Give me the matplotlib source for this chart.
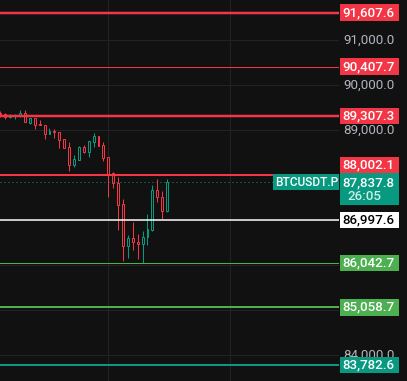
import matplotlib.pyplot as plt
from matplotlib.patches import Rectangle

plt.rcParams['font.family'] = ['Roboto', 'DejaVu Sans']
plt.rcParams['lines.scale_dashes'] = False

BG = '#111111'
GRID = '#232323'
RED = '#f23645'
TEAL = '#089981'
GREEN = '#4caf50'
AXIS_TXT = '#b2b5be'

# candle data (oldest first)
opens = [89370, 89348, 89281, 89311, 89319, 89370, 89156, 89267, 89141, 89111,
         88904, 88970, 88948, 88793, 88622, 88230, 88341, 88622, 88511, 88733,
         88867, 88659, 88400, 88037, 87830, 87356, 86430, 86600, 86511, 86474,
         86622, 86778, 87667, 87511, 87200]
highs = [89422, 89370, 89356, 89348, 89444, 89444, 89267, 89267, 89222, 89118,
         89037, 89022, 88955, 88800, 88733, 88444, 88644, 88667, 88756, 88941,
         88867, 88733, 88400, 88074, 87948, 87467, 86667, 86956, 86689, 86755,
         87133, 87778, 87911, 87644, 87911]
lows = [89296, 89237, 89274, 89237, 89281, 89170, 89141, 89022, 89104, 88807,
        88904, 88830, 88607, 88607, 88089, 88185, 88341, 88481, 88400, 88615,
        88652, 88311, 87518, 87719, 86785, 86096, 86163, 86333, 86133, 86037,
        86444, 86756, 87400, 87022, 87185]
closes = [89311, 89296, 89341, 89326, 89370, 89170, 89267, 89118, 89104, 88904,
          88978, 88948, 88778, 88607, 88230, 88348, 88622, 88511, 88756, 88867,
          88652, 88385, 88022, 87830, 87341, 86430, 86593, 86504, 86474, 86622,
          86793, 87667, 87504, 87207, 87837.8]

grid_prices = [84000, 85000, 86000, 87000, 88000, 89000, 90000, 91000]
# price-scale labels that are not covered by a level tag
scale_labels = [84000, 89000, 90000, 91000]
time_grid = [22, 46.8]

levels = [91607.6, 90407.7, 89307.3, 88002.1, 86997.6, 86042.7, 85058.7, 83782.6]
level_colors = [RED, RED, RED, RED, 'white', GREEN, GREEN, TEAL]
level_lw_px = [2.5, 1.0, 2.5, 2.0, 1.5, 1.0, 2.0, 2.0]
level_text = ['white', 'white', 'white', 'white', 'black', 'white', 'white', 'white']
level_shift_px = [0, 0, 0, 9.5, 0, 0, 0, 0]

last_price = 87837.8
countdown = '26:05'
symbol = 'BTCUSDT.P'

W, H = 407, 381
PLOT_W = 339
PX = 0.72  # one pixel in points at dpi 100
YLIM = (83422.2, 91888.9)
PPX = (YLIM[1] - YLIM[0]) / H  # price per pixel
FS = 9.6

fig = plt.figure(figsize=(W / 100, H / 100), dpi=100, facecolor=BG)
ax = fig.add_axes([0, 0, PLOT_W / W, 1])
ax.set_facecolor(BG)
ax.set_xlim(-0.1, 69.08)
ax.set_ylim(*YLIM)
ax.set_xticks([])
ax.set_yticks([])
for s in ax.spines.values():
    s.set_visible(False)

for t in grid_prices:
    ax.axhline(t, color=GRID, lw=PX, zorder=1)
for g in time_grid:
    ax.axvline(g, color=GRID, lw=PX, zorder=1)

# candles
for i, (o, h, l, c) in enumerate(zip(opens, highs, lows, closes)):
    col = TEAL if c >= o else RED
    ax.vlines(i, l, h, color=col, lw=PX, zorder=3)
    bot = min(o, c)
    hgt = max(abs(c - o), PPX)
    ax.add_patch(Rectangle((i - 0.2, bot), 0.4, hgt, facecolor=BG,
                           edgecolor=col, lw=PX, zorder=4))

# horizontal levels
for p, col, lw in zip(levels, level_colors, level_lw_px):
    ax.axhline(p, color=col, lw=lw * PX, zorder=5)

# last price dotted line + symbol tag
sym_x0 = 273.3 / PLOT_W
ax.axhline(last_price, xmax=sym_x0, color=TEAL, lw=PX,
           dashes=(PX, 3 * PX), zorder=5)
tr = ax.get_yaxis_transform()
ax.add_patch(Rectangle((sym_x0, last_price - 8 * PPX), 1 - sym_x0, 16 * PPX,
                       transform=tr, facecolor=TEAL, edgecolor='none', zorder=6))
ax.text((277 + 336) / 2 / PLOT_W, last_price - 0.5 * PPX, symbol, transform=tr,
        ha='center', va='center', color='white', fontsize=8.6,
        fontweight='medium', zorder=7)

# price scale
ax2 = fig.add_axes([PLOT_W / W, 0, (W - PLOT_W) / W, 1])
ax2.set_facecolor(BG)
ax2.set_xlim(0, W - PLOT_W)
ax2.set_ylim(*YLIM)
ax2.axis('off')

TX = 55.5
for t in scale_labels:
    ax2.text(TX, t, f'{t:,.1f}', ha='right', va='center', color=AXIS_TXT,
             fontsize=FS, zorder=1)

BOX_H = 16.5 * PPX
for p, col, tc, sh in zip(levels, level_colors, level_text, level_shift_px):
    yc = p + sh * PPX
    ax2.add_patch(Rectangle((1, yc - BOX_H / 2), 59, BOX_H, facecolor=col,
                            edgecolor='none', zorder=3))
    ax2.text(TX, yc, f'{p:,.1f}', ha='right', va='center', color=tc,
             fontsize=FS, fontweight='medium', zorder=4)

# last price box with countdown
top = last_price + 9.7 * PPX
ax2.add_patch(Rectangle((1, top - 32.7 * PPX), 59, 32.7 * PPX, facecolor=TEAL,
                        edgecolor='none', zorder=5))
ax2.text(TX, last_price - 1 * PPX, f'{last_price:,.1f}', ha='right', va='center',
         color='white', fontsize=FS, fontweight='medium', zorder=6)
ax2.text(9, last_price - 14 * PPX, countdown, ha='left', va='center',
         color='#cdeee5', fontsize=FS, fontweight='medium', zorder=6)

fig.savefig('out.png', dpi=100, facecolor=BG)
